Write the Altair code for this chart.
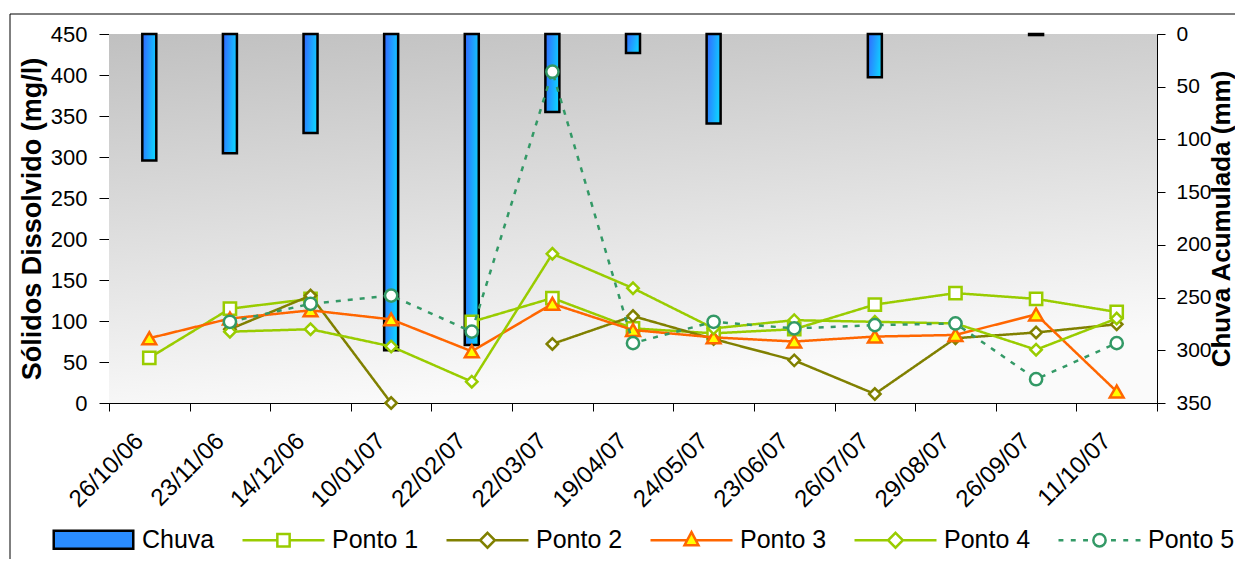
import altair as alt
import pandas as pd

dates = ["26/10/06", "23/11/06", "14/12/06", "10/01/07", "22/02/07", "22/03/07",
         "19/04/07", "24/05/07", "23/06/07", "26/07/07", "29/08/07", "26/09/07", "11/10/07"]
chuva = [120, 113, 94, 300, 295, 74, 18, 85, None, 41, None, 1, None]
ponto1 = [55, 115, 127, None, 99, 128, 91, 85, 90, 120, 134, 127, 111]
ponto2 = [None, 90, 131, 0, None, 72, 106, 78, 52, 11, 79, 86, 96]
ponto3 = [79, 103, 113, 102, 63, 121, 89, 80, 75, 81, 83, 108, 14]
ponto4 = [None, 87, 90, 69, 26, 182, 140, 91, 101, 99, 97, 65, 103]
ponto5 = [None, 99, 121, 131, 87, 404, 73, 99, 91, 95, 97, 29, 73]

series_names = ["Ponto 1", "Ponto 2", "Ponto 3", "Ponto 4", "Ponto 5"]
series_values = [ponto1, ponto2, ponto3, ponto4, ponto5]
series_colors = ["#99CC00", "#808000", "#FF6600", "#99CC00", "#339966"]
series_shapes = ["square", "diamond", "triangle-up", "diamond", "circle"]
series_fills = ["white", "white", "#FFFF00", "white", "white"]
series_dash = [[1, 0], [1, 0], [1, 0], [1, 0], [5, 7]]
series_sizes = [150, 130, 190, 130, 150]

legend_names = ["Chuva"] + series_names
legend_strokes = ["black"] + series_colors
legend_fills = ["#2A8CFF", "white", "white", "#FFFF00", "white", "white"]
legend_paths = [
    "M-0.97,-0.22H0.97V0.22H-0.97Z",
    "M-1,0H-0.15M0.15,0H1M-0.15,-0.15H0.15V0.15H-0.15Z",
    "M-1,0H-0.18M0.18,0H1M0,-0.18L0.18,0L0,0.18L-0.18,0Z",
    "M-1,0H-0.1M0.1,0H1M0,-0.2L0.17,0.12L-0.17,0.12Z",
    "M-1,0H-0.18M0.18,0H1M0,-0.18L0.18,0L0,0.18L-0.18,0Z",
    "M-1,0H-0.88M-0.7,0H-0.58M-0.4,0H-0.28M0.15,0A0.15,0.15,0,1,1,-0.15,0A0.15,0.15,0,1,1,0.15,0ZM0.28,0H0.4M0.58,0H0.7M0.88,0H1",
]

W, H = 1048, 369
FONT = "Liberation Sans"

df_bars = pd.DataFrame({"data": dates, "chuva": chuva})
rows = []
for name, vals in zip(series_names, series_values):
    for d, v in zip(dates, vals):
        rows.append({"data": d, "serie": name, "valor": v})
df_lines = pd.DataFrame(rows)

x_enc = alt.X(
    "data:N", sort=dates,
    scale=alt.Scale(domain=dates, paddingInner=0, paddingOuter=0),
    axis=alt.Axis(title=None, labelAngle=315, labelAlign="right", labelBaseline="middle",
                  labelFontSize=24, labelFont=FONT, labelColor="black", labelPadding=26,
                  labelOffset=-10, tickBand="extent", tickSize=8, tickColor="black",
                  domainColor="black", grid=False)
)

bg_grad = alt.LinearGradient(
    gradient="linear",
    stops=[alt.GradientStop(color="#C0C0C0", offset=0), alt.GradientStop(color="#FAFAFA", offset=1)],
    x1=0, x2=0.25, y1=0, y2=1)
background = alt.Chart(pd.DataFrame({"a": [0]})).mark_rect(color=bg_grad).encode(
    x=alt.value(0), x2=alt.value(W), y=alt.value(0), y2=alt.value(H))

frame = alt.Chart(pd.DataFrame({"a": [0]})).mark_rect(
    fillOpacity=0, stroke="black", strokeWidth=1).encode(
    x=alt.value(-99), x2=alt.value(W + 300), y=alt.value(-20), y2=alt.value(H + 300))

bar_grad = alt.LinearGradient(
    gradient="linear",
    stops=[alt.GradientStop(color="#3366FF", offset=0), alt.GradientStop(color="#11CCFF", offset=1)],
    x1=0, x2=1, y1=0, y2=0.3)
bars = alt.Chart(df_bars).mark_bar(
    color=bar_grad, stroke="black", strokeWidth=2.5, size=14, opacity=1).encode(
    x=x_enc,
    y=alt.Y("chuva:Q", scale=alt.Scale(domain=[0, 350], reverse=True),
            axis=alt.Axis(orient="right", values=list(range(0, 351, 50)),
                          title="Chuva Acumulada (mm)", titleAngle=270, titleX=64,
                          titleBaseline="middle",
                          titleFontSize=26, titleFont=FONT, titleFontWeight="bold",
                          titleColor="black", labelFontSize=21, labelFont=FONT,
                          labelColor="black", labelPadding=11, tickSize=8, tickColor="black",
                          domainColor="black", grid=False))
)

y_left = alt.Y("valor:Q", scale=alt.Scale(domain=[0, 450]),
               axis=alt.Axis(orient="left", values=list(range(0, 451, 50)),
                             title="Sólidos Dissolvido  (mg/l)", titleX=-77,
                             titleBaseline="middle",
                             titleFontSize=27, titleFont=FONT, titleFontWeight="bold",
                             titleColor="black", labelFontSize=22, labelFont=FONT,
                             labelColor="black", labelPadding=12, tickSize=10, tickColor="black",
                             domainColor="black", grid=False))

line_layers = []
for name, col, shp, fil, dash, sz in zip(series_names, series_colors, series_shapes,
                                         series_fills, series_dash, series_sizes):
    base = alt.Chart(df_lines).transform_filter(alt.datum.serie == name)
    line_layers.append(base.mark_line(color=col, strokeWidth=2.5, strokeDash=dash,
                                      invalid="break-paths-show-domains").encode(x=x_enc, y=y_left))
    line_layers.append(base.mark_point(shape=shp, filled=True, fill=fil, stroke=col,
                                       strokeWidth=2.5, size=sz, opacity=1).encode(x=x_enc, y=y_left))
lines = alt.layer(*line_layers)

leg = alt.Legend(orient="none", legendX=-58, legendY=463, direction="horizontal", columns=6,
                 title=None, symbolSize=6724, symbolStrokeWidth=2.5, labelFontSize=25,
                 labelFont=FONT, labelColor="black", labelOffset=6, columnPadding=22)
carrier = alt.Chart(pd.DataFrame({"serie": legend_names})).transform_filter("false").mark_point(
    filled=True, opacity=1).encode(
    fill=alt.Fill("serie:N", scale=alt.Scale(domain=legend_names, range=legend_fills), legend=leg),
    stroke=alt.Stroke("serie:N", scale=alt.Scale(domain=legend_names, range=legend_strokes), legend=leg),
    shape=alt.Shape("serie:N", scale=alt.Scale(domain=legend_names, range=legend_paths), legend=leg),
)

chart = alt.layer(background, frame, bars, lines, carrier).resolve_scale(
    y="independent"
).properties(
    width=W, height=H,
    autosize=alt.AutoSizeParams(type="none"),
    padding={"left": 101, "top": 26, "right": 78, "bottom": 156},
    background="white",
).configure_view(stroke="#808080", strokeWidth=1)

chart.save("out.html", embed_options={"renderer": "svg", "actions": False})
